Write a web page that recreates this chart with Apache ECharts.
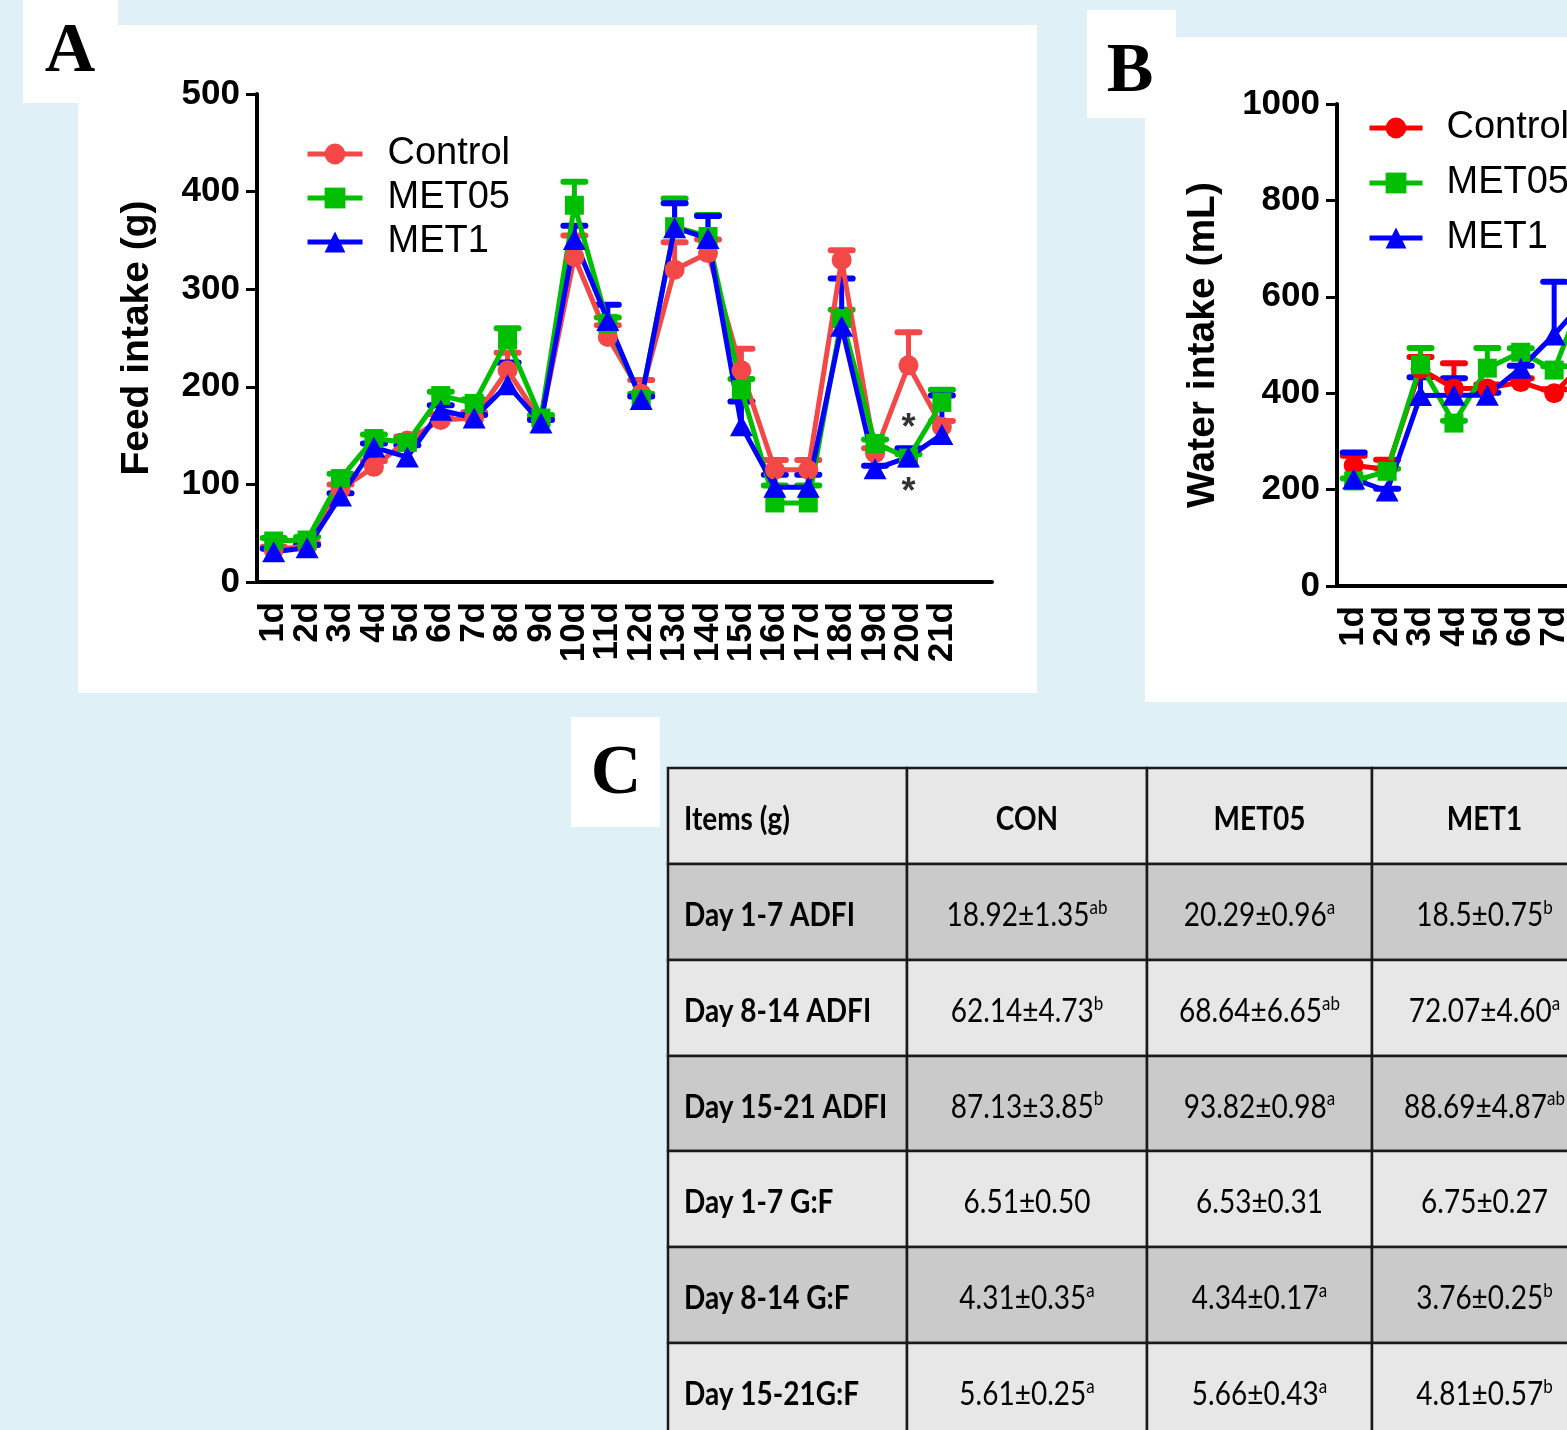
<!DOCTYPE html>
<html>
<head>
<meta charset="utf-8">
<script src="https://cdn.jsdelivr.net/npm/echarts@6/dist/echarts.min.js"></script>
<style>html,body{margin:0;padding:0;background:#DFF1F6}#c{width:1567px;height:1430px}</style>
</head>
<body>
<div id="c"></div>
<script>
// ---------- DATA ----------
const days = ['1d','2d','3d','4d','5d','6d','7d','8d','9d','10d','11d','12d','13d','14d','15d','16d','17d','18d','19d','20d','21d'];
const seriesNames = ['Control','MET05','MET1'];

// Panel A: Feed intake (g), mean and upper error
const feedControl    = [33,37,95,118,145,166,168,217,165,333,251,193,320,337,217,115,115,330,132,222,159];
const feedControlErr = [3,3,5,6,4,6,6,18,3,22,12,14,28,14,22,10,10,10,5,34,6];
const feedMET05      = [42,43,106,147,143,191,183,248,168,386,265,187,364,354,197,81,81,270,142,127,184];
const feedMET05Err   = [3,3,5,4,4,4,4,12,3,24,6,6,29,22,11,18,18,9,4,4,13];
const feedMET1       = [31,35,88,138,128,176,168,202,163,351,268,187,363,352,160,97,97,262,116,128,151];
const feedMET1Err    = [3,3,3,4,12,5,3,23,3,14,16,3,25,23,25,13,13,49,3,9,40];
const sigMarks = [['20d',157],['20d',91]];
const sigText = '*';

// Panel B: Water intake (mL) — only the visible days of the cropped panel
const waterControl    = [250,242,450,410,410,423,400,470];
const waterControlErr = [20,20,25,52,8,8,8,10];
const waterMET05      = [218,238,459,338,452,485,448,625];
const waterMET05Err   = [5,5,35,5,42,8,8,10];
const waterMET1       = [222,197,395,396,396,452,521,600];
const waterMET1Err    = [55,5,38,35,5,5,110,10];

// Panel C: table
const tableHeaders = ['Items (g)','CON','MET05','MET1'];
const tableItems   = ['Day 1-7 ADFI','Day 8-14 ADFI','Day 15-21 ADFI','Day 1-7 G:F','Day 8-14 G:F','Day 15-21G:F'];
const conVals   = ['18.92±1.35','62.14±4.73','87.13±3.85','6.51±0.50','4.31±0.35','5.61±0.25'];
const conSup    = ['ab','b','b','','a','a'];
const met05Vals = ['20.29±0.96','68.64±6.65','93.82±0.98','6.53±0.31','4.34±0.17','5.66±0.43'];
const met05Sup  = ['a','ab','a','','a','a'];
const met1Vals  = ['18.5±0.75','72.07±4.60','88.69±4.87','6.75±0.27','3.76±0.25','4.81±0.57'];
const met1Sup   = ['b','a','ab','','b','b'];

// ---------- STYLE / LAYOUT ----------
const SANS = 'Liberation Sans';
const SERIF = 'Liberation Serif';
const TFONT = 'Lato';
const colA = ['#F44848','#00BF00','#0000FF'];
const colB = ['#FF0000','#00BF00','#0000FF'];
const symbols = ['circle','rect','triangle'];
const symSizes = [20,19,[23,21]];
const slots = days.concat(['']);

const chart = echarts.init(document.getElementById('c'), null, {width:1567, height:1430});

function xAxisDef(gi){
  return {
    type:'category', gridIndex:gi, data:slots, boundaryGap:true,
    axisLine:{lineStyle:{color:'#000', width:4}},
    axisTick:{alignWithLabel:true, length:12, lineStyle:{color:'#000', width:3}, interval:(idx)=>idx < days.length},
    axisLabel:{rotate:90, interval:0, margin:20, fontFamily:SANS, fontWeight:'bold', fontSize:35, color:'#000'},
    splitLine:{show:false}
  };
}
function yAxisDef(gi, max, interval, name, gap){
  return {
    type:'value', gridIndex:gi, min:0, max:max, interval:interval,
    axisLine:{show:true, lineStyle:{color:'#000', width:4}},
    axisTick:{show:true, length:11, lineStyle:{color:'#000', width:3}},
    axisLabel:{margin:17, fontFamily:SANS, fontWeight:'bold', fontSize:35, color:'#000', formatter:(v)=>String(v)},
    splitLine:{show:false},
    name:name, nameLocation:'middle', nameGap:gap,
    nameTextStyle:{fontFamily:SANS, fontWeight:'bold', fontSize:39, color:'#000'}
  };
}
function errSeries(gi, vals, errs, color, capHalf, lw){
  return {
    type:'custom', xAxisIndex:gi, yAxisIndex:gi, silent:true, z:2,
    data: vals.map((v,i)=>[i, v, v+errs[i]]),
    encode:{x:0, y:[1,2]},
    renderItem(params, api){
      const x = api.value(0);
      const p0 = api.coord([x, api.value(1)]);
      const p1 = api.coord([x, api.value(2)]);
      return {type:'group', children:[
        {type:'line', shape:{x1:p0[0], y1:p0[1], x2:p1[0], y2:p1[1]}, style:{stroke:color, lineWidth:lw}},
        {type:'line', shape:{x1:p1[0]-capHalf, y1:p1[1], x2:p1[0]+capHalf, y2:p1[1]}, style:{stroke:color, lineWidth:lw+1, lineCap:'round'}}
      ]};
    }
  };
}
function lineSeries(gi, name, data, k, colors, lw){
  return {
    type:'line', name:name, xAxisIndex:gi, yAxisIndex:gi, data:data, z:3,
    symbol:symbols[k], symbolSize:symSizes[k], showAllSymbol:true,
    lineStyle:{width:lw, color:colors[k]}, itemStyle:{color:colors[k], opacity:1},
    emphasis:{disabled:true}
  };
}

const feedVals = [feedControl, feedMET05, feedMET1];
const feedErrs = [feedControlErr, feedMET05Err, feedMET1Err];
const waterVals = [waterControl, waterMET05, waterMET1];
const waterErrs = [waterControlErr, waterMET05Err, waterMET1Err];
const bNames = seriesNames.map(n => n + ' ');

const series = [];
for (let k=0;k<3;k++){
  series.push(errSeries(0, feedVals[k], feedErrs[k], colA[k], 11, 5));
  series.push(lineSeries(0, seriesNames[k], feedVals[k], k, colA, 5));
}
for (let k=0;k<3;k++){
  series.push(errSeries(1, waterVals[k], waterErrs[k], colB[k], 11, 5));
  series.push(lineSeries(1, bNames[k], waterVals[k], k, colB, 5));
}
series.push({
  type:'scatter', xAxisIndex:0, yAxisIndex:0, symbolSize:0, data:sigMarks, z:5, silent:true,
  label:{show:true, position:'inside', formatter:sigText, fontFamily:SANS, fontSize:36, fontWeight:'bold', color:'#000'}
});

// ---------- graphics: panels, labels, table ----------
const graphics = [];
function rect(x,y,w,h,fill,z){ graphics.push({type:'rect', shape:{x,y,width:w,height:h}, style:{fill}, z:z||-10, silent:true}); }
rect(78,25,959,668,'#FFFFFF');
rect(23,0,95,103,'#FFFFFF');
rect(1145,37,430,665,'#FFFFFF');
rect(1087,10,89,108,'#FFFFFF');
rect(571,717,89,110,'#FFFFFF');
function panelLabel(t,x,y){
  graphics.push({type:'text', x, y, z:10, style:{text:t, fontFamily:SERIF, fontWeight:'bold', fontSize:70, fill:'#000', textAlign:'center', textVerticalAlign:'middle'}});
}
panelLabel('A',70,53);
panelLabel('B',1130,73);
panelLabel('C',616,775);

const colX = [668,907,1147,1372,1597];
const rowY = [768,864,960,1056,1151,1247,1343,1439];
const rowFill = ['#E7E7E7','#CACACA','#E7E7E7','#CACACA','#E7E7E7','#CACACA','#E7E7E7'];
for (let r=0;r<7;r++){
  for (let c=0;c<4;c++){
    graphics.push({type:'rect', z:1, silent:true,
      shape:{x:colX[c], y:rowY[r], width:colX[c+1]-colX[c], height:rowY[r+1]-rowY[r]},
      style:{fill:rowFill[r], stroke:'#1A1A1A', lineWidth:2.5}});
  }
}
const rich = {
  v:{fontFamily:TFONT, fontSize:28, color:'#1A1A1A', lineHeight:32},
  b:{fontFamily:TFONT, fontSize:28, fontWeight:'bold', color:'#1A1A1A', lineHeight:32},
  s:{fontFamily:TFONT, fontSize:17, color:'#1A1A1A', lineHeight:17, verticalAlign:'top'}
};
function cellText(txt, x, y, align){
  graphics.push({type:'text', x, y, z:5, silent:true, scaleY:1.15,
    style:{text:txt, rich, textAlign:align, textVerticalAlign:'middle'}});
}
const rowMid = r => (rowY[r]+rowY[r+1])/2 + 4;
const colMid = c => (colX[c]+colX[c+1])/2;
cellText('{b|'+tableHeaders[0]+'}', colX[0]+16, rowMid(0), 'left');
for (let c=1;c<4;c++) cellText('{b|'+tableHeaders[c]+'}', colMid(c), rowMid(0), 'center');
const valCols = [[conVals,conSup],[met05Vals,met05Sup],[met1Vals,met1Sup]];
tableItems.forEach((item,i)=>{
  cellText('{b|'+item+'}', colX[0]+16, rowMid(i+1), 'left');
  valCols.forEach(([vals,sups],c)=>{
    const t = '{v|'+vals[i]+'}' + (sups[i] ? '{s|'+sups[i]+'}' : '');
    cellText(t, colMid(c+1), rowMid(i+1), 'center');
  });
});

function legendDef(left, top, gap, itemWidth, textPad, data){
  return {
    orient:'vertical', left, top, itemGap:gap, itemWidth, itemHeight:26, padding:0,
    lineStyle:{width:5},
    textStyle:{fontFamily:SANS, fontSize:38, color:'#000', padding:[0,0,0,textPad]},
    selectedMode:false, data
  };
}

chart.setOption({
  animation:false,
  backgroundColor:'#DFF1F6',
  grid:[
    {left:257, top:94, width:735, height:488, outerBoundsMode:'none', containLabel:false},
    {left:1337, top:104, width:735, height:482, outerBoundsMode:'none', containLabel:false}
  ],
  xAxis:[xAxisDef(0), xAxisDef(1)],
  yAxis:[yAxisDef(0,500,100,'Feed intake (g)',100), yAxisDef(1,1000,200,'Water intake (mL)',114)],
  legend:[
    legendDef(305, 135, 6, 55, 20, seriesNames),
    legendDef(1367, 109, 17, 53, 19, bNames)
  ],
  graphic:graphics,
  series:series
});
</script>
</body>
</html>
